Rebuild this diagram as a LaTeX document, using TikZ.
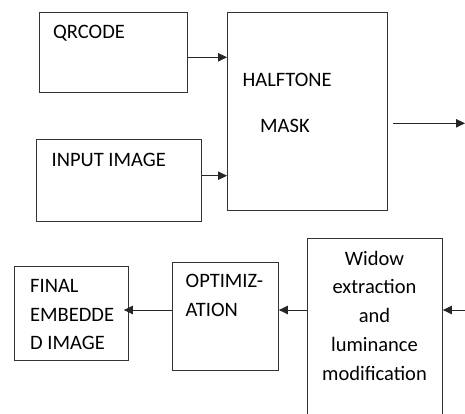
\documentclass[tikz,border=0pt]{standalone}
\usepackage{fontspec}
\setmainfont{Carlito}
\usetikzlibrary{arrows.meta}
\begin{document}
\begin{tikzpicture}[x=1pt,y=-1pt,
  box/.style={draw=black!80, line width=0.9pt, anchor=north west, inner sep=0pt},
  txt/.style={anchor=base west, inner sep=0pt, font=\fontsize{20.5}{24}\selectfont, text=black},
  ctxt/.style={txt, anchor=base},
  tipstyle/.tip={Triangle[length=9pt,width=8.5pt]},
  arr/.style={draw=black!85, line width=0.9pt, -tipstyle}]
\useasboundingbox (0,0) rectangle (465,414);
\clip (0,0) rectangle (465,414);
% boxes
\node[box, minimum width=148pt, minimum height=80pt] (qr) at (39,12) {};
\node[box, minimum width=165pt, minimum height=82pt] (in) at (36,139) {};
\node[box, minimum width=160pt, minimum height=198pt] (ht) at (227,12) {};
\node[box, minimum width=114pt, minimum height=94pt] (fin) at (14,266) {};
\node[box, minimum width=106pt, minimum height=108pt] (opt) at (172,262) {};
\node[box, minimum width=135pt, minimum height=200pt] (wid) at (307,238) {};
% texts
\node[txt] (tqr) at (53,39) {QRCODE};
\node[txt] (tin) at (51.5,166.5) {INPUT IMAGE};
\node[txt] (tht1) at (242.5,86.5) {HALFTONE};
\node[txt] (tht2) at (260,133) {MASK};
\node[txt] (tf1) at (30,292) {FINAL};
\node[txt] (tf2) at (30,321) {EMBEDDE};
\node[txt] (tf3) at (30,349) {D IMAGE};
\node[txt] (to1) at (185.5,287.5) {OPTIMIZ-};
\node[txt] (to2) at (185.5,316.5) {ATION};
\node[ctxt] (tw1) at (374.5,265) {Widow};
\node[ctxt] (tw2) at (374.5,293.5) {extraction};
\node[ctxt] (tw3) at (374.5,322) {and};
\node[ctxt] (tw4) at (374.5,351) {luminance};
\node[ctxt] (tw5) at (374.5,380) {modification};
% connectors
\coordinate (y1) at (0,57.3);
\coordinate (y2) at (0,175.7);
\coordinate (y3) at (0,310);
\coordinate (ostart) at (393.3,123.3);
\coordinate (oend) at (465,123.3);
\coordinate (rin) at (465,310);
\draw[arr] (qr.east |- y1) -- (ht.west |- y1);
\draw[arr] (in.east |- y2) -- (ht.west |- y2);
\draw[arr] (ostart) -- (oend);
\draw[arr] (rin) -- (wid.east |- y3);
\draw[arr] (wid.west |- y3) -- (opt.east |- y3);
\draw[arr] (opt.west |- y3) -- ([xshift=-5pt]fin.east |- y3);
\end{tikzpicture}
\end{document}
